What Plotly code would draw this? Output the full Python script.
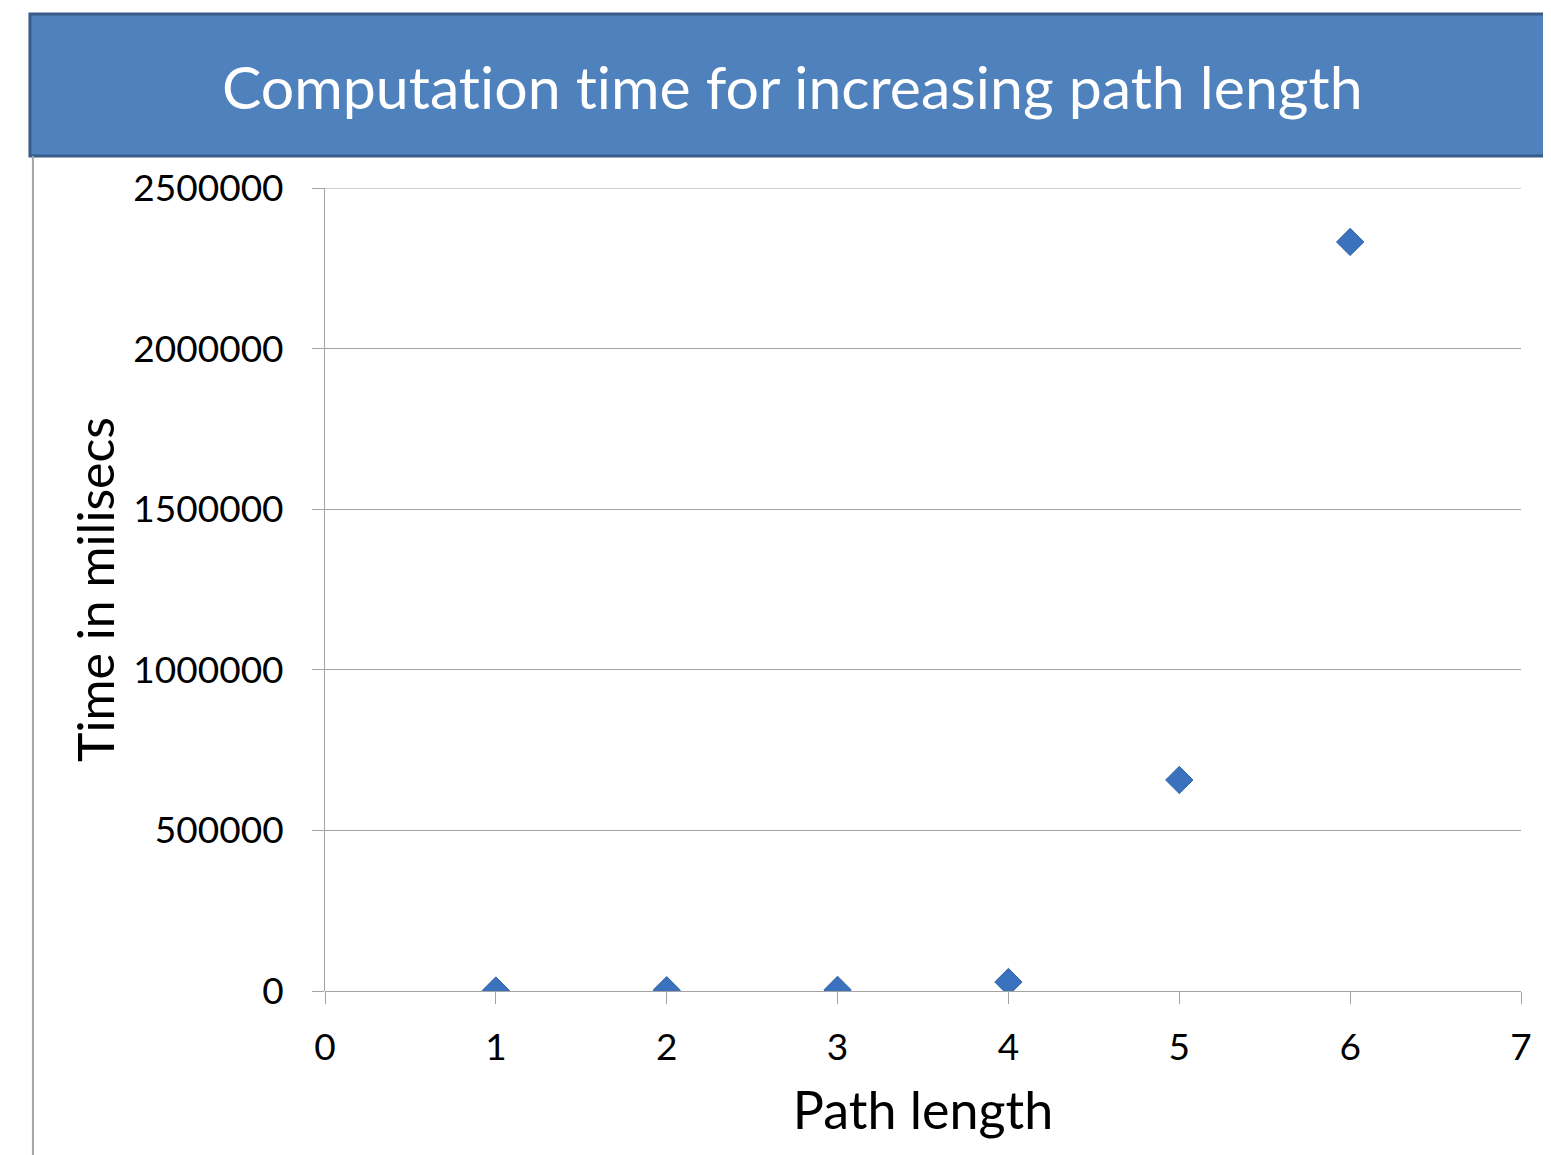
import plotly.graph_objects as go

path_length = [1, 2, 3, 4, 5, 6]
time_ms = [1500, 2500, 3500, 28000, 657000, 2332000]
x_ticks = [0, 1, 2, 3, 4, 5, 6, 7]
y_ticks = [0, 500000, 1000000, 1500000, 2000000, 2500000]

title_text = "Computat\u200cion t\u200cime for increasing path length"
x_title = "Path length"
y_title = "Time in milisecs"

FONT = "Lato"
GRID = "#A3A3A3"

fig = go.Figure()
fig.add_trace(go.Scatter(
    x=path_length, y=time_ms, mode="markers",
    marker=dict(symbol="diamond", size=21, color="#3A72BE",
                line=dict(color="#2F62A8", width=1)),
    showlegend=False, hoverinfo="x+y",
))

fig.update_layout(
    width=1543, height=1147, autosize=False,
    margin=dict(l=317, r=30, t=180, b=164, pad=0),
    paper_bgcolor="white", plot_bgcolor="white",
    font=dict(family=FONT, color="black", size=37),
    xaxis=dict(
        range=[0, 7], tickvals=x_ticks, ticktext=[str(v) for v in x_ticks],
        showgrid=False, zeroline=False, showline=False,
        ticks="outside", ticklen=12, tickcolor=GRID, tickwidth=1,
        tickfont=dict(size=37, family=FONT), ticklabelstandoff=12,
        title=dict(text=x_title, font=dict(size=52, family=FONT), standoff=25),
    ),
    yaxis=dict(
        range=[0, y_ticks[-1]], tickvals=y_ticks, ticktext=[str(v) for v in y_ticks],
        showgrid=True, gridcolor=GRID, gridwidth=1,
        zeroline=True, zerolinecolor=GRID, zerolinewidth=1,
        showline=True, linecolor=GRID, linewidth=1,
        ticks="outside", ticklen=12, tickcolor=GRID, tickwidth=1,
        tickfont=dict(size=37, family=FONT), ticklabelstandoff=21,
        title=dict(text=y_title, font=dict(size=50, family=FONT), standoff=2),
    ),
    shapes=[
        dict(type="line", xref="paper", yref="y",
             x0=0, x1=1, y0=y_ticks[-1], y1=y_ticks[-1],
             line=dict(color=GRID, width=1), layer="below"),
        dict(type="rect", xref="paper", yref="paper",
             x0=-0.2467, x1=1.03, y0=1.0399, y1=1.2167,
             fillcolor="#4F81BD", line=dict(color="#385D8A", width=3), layer="above"),
        dict(type="line", xref="paper", yref="paper",
             x0=-0.2442, x1=-0.2442, y0=1.0399, y1=-0.22,
             line=dict(color="#A6A6A6", width=2)),
    ],
    annotations=[
        dict(text=title_text, xref="paper", yref="paper", x=0.3905, y=1.1265,
             xanchor="center", yanchor="middle", showarrow=False,
             font=dict(size=59, color="white", family=FONT)),
    ],
)

fig.write_html("out.html")
